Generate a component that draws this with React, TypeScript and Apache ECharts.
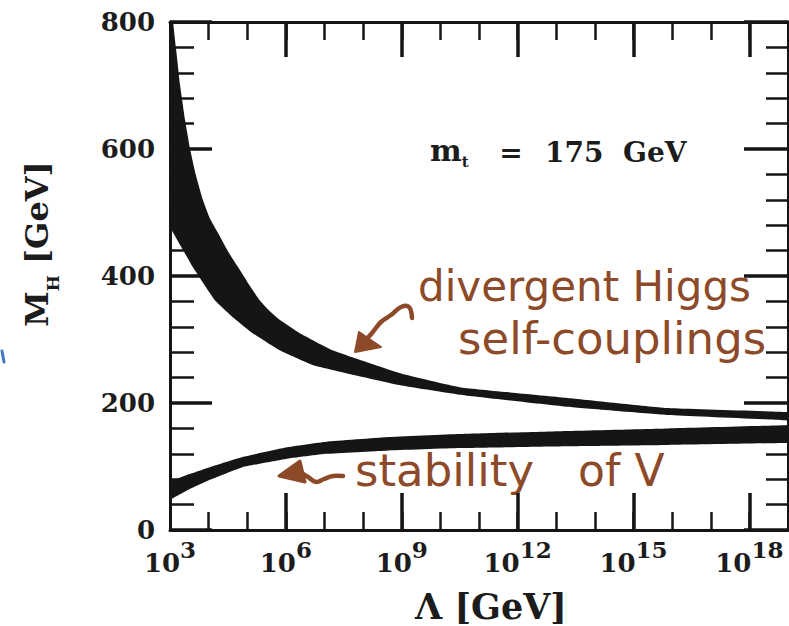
import React, { useEffect, useRef } from "react";
import * as echarts from "echarts";

// x: log10(Λ / GeV), y: M_H in GeV
const X_MIN = 3;
const X_MAX = 19;
const Y_MIN = 0;
const Y_MAX = 800;

const labelDecades = [3, 6, 9, 12, 15, 18];
const majorDecades = [6, 9, 12, 15, 18];

// Triviality band ("divergent Higgs self-couplings"): upper and lower edges
const trivialTopL = [2.9, 3.0, 3.08, 3.16, 3.26, 3.39, 3.52, 3.67, 3.85, 4.03, 4.24, 4.5, 4.76, 5.04, 5.32, 5.58, 5.84, 6.36, 7.21, 7.91, 9.0, 10.5, 13.3, 15.9, 18.9, 19.5];
const trivialTopM = [900, 843, 800, 756, 701, 646, 600, 559, 520, 491, 468, 439, 414, 387, 362, 345, 331, 310, 283, 268, 246, 225, 208, 192, 186, 184];
const trivialBottomL = [2.9, 3.0, 3.28, 3.59, 3.88, 4.16, 4.65, 5.14, 5.84, 6.69, 7.57, 9.04, 10.5, 13.3, 15.9, 18.9, 19.5];
const trivialBottomM = [495, 477, 447, 414, 387, 362, 334, 310, 283, 260, 247, 227, 213, 194, 181, 173, 171];

// Vacuum stability band: upper and lower edges
const stabilityL = [2.9, 3.0, 3.5, 4.03, 4.88, 6.0, 7.05, 8.6, 10.5, 13.3, 15.9, 18.9, 19.5];
const stabilityTopM = [68, 76, 88, 99, 115, 130, 139, 146, 151, 156, 160, 165, 166];
const stabilityBottomM = [38, 47, 64, 79, 99, 112, 120, 125, 129, 132, 134, 137, 138];

const SERIF = "'DejaVu Serif', 'Liberation Serif', serif";
const HAND = "'DejaVu Sans', 'Noto Sans', sans-serif";
const INK = "#151515";
const TEXT = "#1c1c1c";
const BROWN = "#8d4a29";

function bandSeries(topL: number[], topM: number[], botL: number[], botM: number[]) {
  return {
    type: "custom",
    coordinateSystem: "cartesian2d",
    xAxisIndex: 0,
    yAxisIndex: 0,
    clip: true,
    silent: true,
    z: 2,
    data: [[X_MIN, Y_MIN]],
    renderItem: (_params: any, api: any) => {
      const pts: number[][] = [];
      for (let i = 0; i < topL.length; i++) pts.push(api.coord([topL[i], topM[i]]));
      for (let i = botL.length - 1; i >= 0; i--) pts.push(api.coord([botL[i], botM[i]]));
      return {
        type: "polygon",
        shape: { points: pts, smooth: 0.12 },
        style: { fill: INK },
      };
    },
  };
}

function xAxisBase(position: "top" | "bottom", tickLen: number, major: boolean, showLine: boolean) {
  return {
    type: "value",
    position,
    min: X_MIN,
    max: X_MAX,
    interval: 1,
    z: 5,
    axisLine: { show: showLine, onZero: false, lineStyle: { color: INK, width: 3 } },
    axisTick: {
      show: true,
      inside: true,
      length: tickLen,
      lineStyle: { color: INK, width: major ? 3.5 : 2.5 },
      ...(major ? { customValues: majorDecades } : {}),
    },
    axisLabel: { show: false },
    splitLine: { show: false },
  };
}

function yAxisBase(position: "left" | "right", majorLen: number, minorLen: number, labels: boolean) {
  return {
    type: "value",
    position,
    min: Y_MIN,
    max: Y_MAX,
    interval: 200,
    z: 5,
    axisLine: { show: true, onZero: false, lineStyle: { color: INK, width: 3 } },
    axisTick: { show: true, inside: true, length: majorLen, lineStyle: { color: INK, width: 3.5 } },
    minorTick: { show: true, splitNumber: 5, length: minorLen, lineStyle: { color: INK, width: 2.5 } },
    axisLabel: labels
      ? { show: true, margin: 15, color: TEXT, fontFamily: SERIF, fontWeight: "bold", fontSize: 26 }
      : { show: false },
    splitLine: { show: false },
  };
}

function plainText(x: number, y: number, text: string, fontSize: number, align = "left") {
  return {
    type: "text",
    x,
    y,
    style: { text, align, verticalAlign: "middle", fontFamily: SERIF, fontWeight: "bold", fontSize, fill: TEXT },
  };
}

function handText(x: number, y: number, text: string, fontSize: number) {
  return {
    type: "text",
    x,
    y,
    style: { text, fontFamily: HAND, fontSize, fill: BROWN, align: "left", verticalAlign: "middle" },
  };
}

export default function App() {
  const ref = useRef<HTMLDivElement>(null);

  useEffect(() => {
    if (!ref.current) return;
    const chart = echarts.init(ref.current, undefined, { renderer: "svg" });

    const bottomAxis: any = xAxisBase("bottom", 18, false, true);
    bottomAxis.axisLabel = {
      show: true,
      margin: 8,
      customValues: labelDecades,
      formatter: (v: number) => `{b|10}{s|${v}}`,
      rich: {
        b: { fontFamily: SERIF, fontWeight: "bold", fontSize: 26, color: TEXT, lineHeight: 38, verticalAlign: "bottom" },
        s: { fontFamily: SERIF, fontWeight: "bold", fontSize: 23, color: TEXT, lineHeight: 22, verticalAlign: "top" },
      },
    };

    chart.setOption({
      animation: false,
      backgroundColor: "#ffffff",
      grid: { left: 170, top: 22, right: 1, bottom: 96, containLabel: false },
      xAxis: [
        bottomAxis,
        xAxisBase("bottom", 37, true, false),
        xAxisBase("top", 18, false, true),
        xAxisBase("top", 35, true, false),
      ],
      yAxis: [yAxisBase("left", 42, 24, true), yAxisBase("right", 44, 22, false)],
      series: [
        bandSeries(trivialTopL, trivialTopM, trivialBottomL, trivialBottomM),
        bandSeries(stabilityL, stabilityTopM, stabilityL, stabilityBottomM),
      ],
      graphic: [
        {
          type: "text",
          x: 41,
          y: 244,
          rotation: Math.PI / 2,
          style: {
            text: "{m|M}{h|H}{r| [GeV]}",
            align: "center",
            verticalAlign: "middle",
            rich: {
              m: { fontFamily: SERIF, fontWeight: "bold", fontSize: 32, lineHeight: 40, verticalAlign: "top", fill: TEXT },
              h: { fontFamily: SERIF, fontWeight: "bold", fontSize: 17, verticalAlign: "bottom", fill: TEXT },
              r: { fontFamily: SERIF, fontWeight: "bold", fontSize: 32, lineHeight: 40, verticalAlign: "top", fill: TEXT },
            },
          },
        },
        plainText(491, 606, "Λ [GeV]", 35, "center"),
        {
          type: "text",
          x: 430,
          y: 152,
          style: {
            text: "{m|m}{t|t}",
            align: "left",
            verticalAlign: "middle",
            rich: {
              m: { fontFamily: SERIF, fontWeight: "bold", fontSize: 30, lineHeight: 34, verticalAlign: "top", fill: TEXT },
              t: { fontFamily: SERIF, fontWeight: "bold", fontSize: 15, verticalAlign: "bottom", fill: TEXT },
            },
          },
        },
        plainText(511, 152, "=", 28, "center"),
        plainText(545, 152, "175", 28),
        plainText(623, 152, "GeV", 28),
        handText(418, 286, "divergent Higgs", 42),
        handText(458, 338, "self-couplings", 45),
        handText(355, 470, "stability", 45),
        handText(578, 470, "of V", 44),
        {
          type: "polyline",
          shape: {
            points: [[412, 318], [409, 307], [401, 307], [391, 315], [381, 322], [372, 333], [364, 342]],
            smooth: 0.4,
          },
          style: { stroke: BROWN, lineWidth: 4.5, fill: "none", lineCap: "round", lineJoin: "round" },
        },
        {
          type: "polygon",
          shape: { points: [[355, 352], [359, 332], [381, 347]] },
          style: { fill: BROWN, stroke: BROWN, lineWidth: 2, lineJoin: "round" },
        },
        {
          type: "polyline",
          shape: {
            points: [[300, 472], [308, 477], [316, 482], [324, 479], [333, 476], [343, 476]],
            smooth: 0.4,
          },
          style: { stroke: BROWN, lineWidth: 4.5, fill: "none", lineCap: "round", lineJoin: "round" },
        },
        {
          type: "polygon",
          shape: { points: [[279, 476], [300, 461], [305, 482]] },
          style: { fill: BROWN, stroke: BROWN, lineWidth: 3, lineJoin: "round" },
        },
        {
          type: "line",
          shape: { x1: 2, y1: 351, x2: 4, y2: 362 },
          style: { stroke: "#3f78c4", lineWidth: 3, lineCap: "round" },
        },
      ],
    });

    return () => chart.dispose();
  }, []);

  return (
    <div
      ref={ref}
      style={{ position: "fixed", left: 0, top: 0, width: 789, height: 626 }}
    />
  );
}
